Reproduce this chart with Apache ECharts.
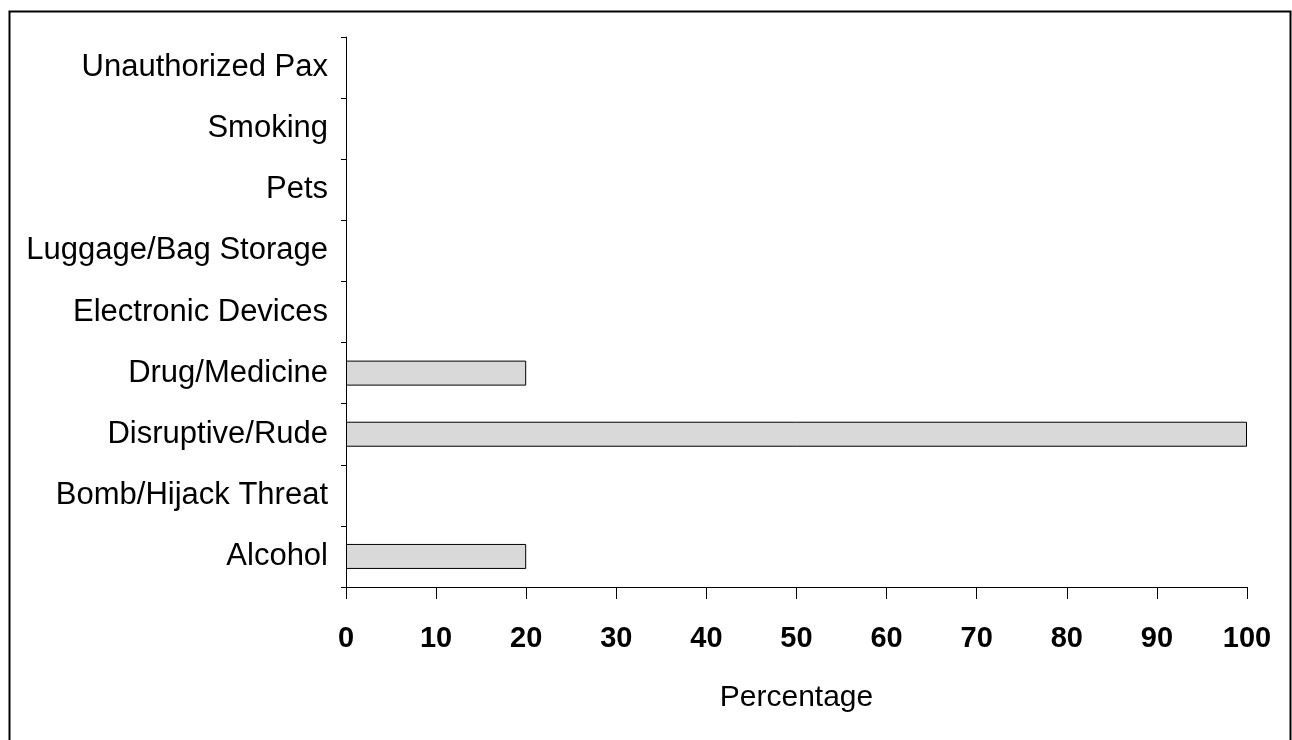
<!DOCTYPE html>
<html>
<head>
<meta charset="utf-8">
<script src="https://cdn.jsdelivr.net/npm/echarts@6/dist/echarts.min.js"></script>
<style>html,body{margin:0;padding:0;background:#fff}#c{width:1292px;height:740px}</style>
</head>
<body>
<div id="c"></div>
<script>
const categories = ["Alcohol", "Bomb/Hijack Threat", "Disruptive/Rude", "Drug/Medicine", "Electronic Devices", "Luggage/Bag Storage", "Pets", "Smoking", "Unauthorized Pax"];
const percentages = [20, 0, 100, 20, 0, 0, 0, 0, 0];
const xTicks = { min: 0, max: 100, interval: 10 };
const xAxisName = "Percentage";

const chart = echarts.init(document.getElementById('c'), null, { renderer: 'canvas' });
chart.setOption({
  backgroundColor: '#ffffff',
  animation: false,
  graphic: [{
    type: 'rect', left: 7, top: 9,
    shape: { width: 1281, height: 760 },
    style: { fill: 'none', stroke: '#000', lineWidth: 2 },
    silent: true
  }],
  grid: { left: 346, right: 45, top: 37, bottom: 153, containLabel: false },
  xAxis: {
    type: 'value',
    min: xTicks.min, max: xTicks.max, interval: xTicks.interval,
    name: xAxisName, nameLocation: 'middle', nameGap: 96,
    nameTextStyle: { fontFamily: 'Liberation Sans, Arial, sans-serif', fontSize: 30, color: '#000' },
    axisLine: { show: true, lineStyle: { color: '#000', width: 1 } },
    axisTick: { show: true, length: 12, lineStyle: { color: '#000' } },
    axisLabel: { margin: 37, fontFamily: "'Liberation Sans Narrow', 'Arial Narrow', 'Liberation Sans', Arial, sans-serif", fontWeight: 'bold', fontSize: 29, color: '#000' },
    splitLine: { show: false }
  },
  yAxis: {
    type: 'category',
    data: categories,
    axisLine: { show: true, lineStyle: { color: '#000', width: 1 } },
    axisTick: { show: true, length: 5, lineStyle: { color: '#000' } },
    axisLabel: { margin: 18, fontFamily: 'Liberation Sans, Arial, sans-serif', fontSize: 31, color: '#000' },
    splitLine: { show: false }
  },
  series: [{
    type: 'bar',
    data: percentages.map(v => (v === 0 ? '-' : v)),
    barWidth: 25,
    itemStyle: { color: '#d9d9d9', borderColor: '#000', borderWidth: 1 }
  }]
});
</script>
</body>
</html>
